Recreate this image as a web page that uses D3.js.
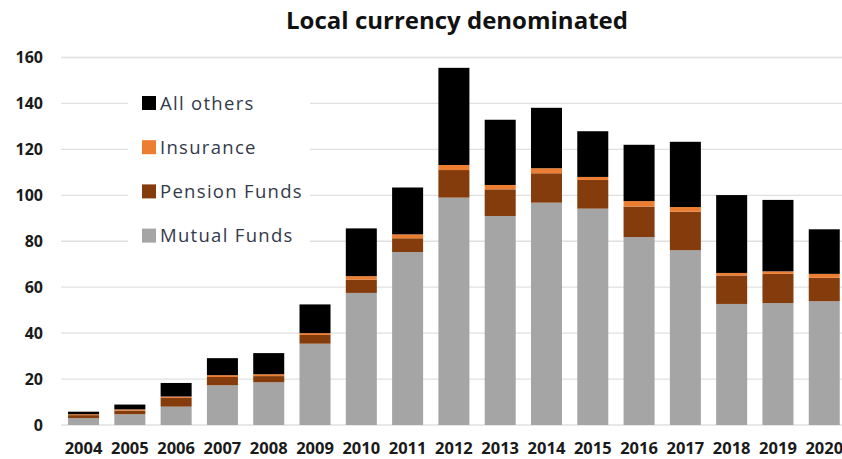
<!DOCTYPE html>
<html>
<head>
<meta charset="utf-8">
<script src="https://cdn.jsdelivr.net/npm/d3@7"></script>
<style>
  body { margin: 0; background: #fff; }
  svg { display: block; }
</style>
</head>
<body>
<script>
const width = 842;
const height = 459;

const years = ["2004", "2005", "2006", "2007", "2008", "2009", "2010", "2011", "2012",
    "2013", "2014", "2015", "2016", "2017", "2018", "2019", "2020"];
const mutualFunds = [3.0, 4.7, 8.0, 17.3, 18.6, 35.4, 57.5, 75.3, 99.0, 91.0, 96.8, 94.2, 81.8, 76.1, 52.7, 53.1, 53.9];
const pensionFunds = [1.3, 1.6, 3.8, 3.6, 2.7, 3.8, 5.8, 6.0, 12.0, 11.6, 12.8, 12.5, 13.3, 16.8, 12.4, 12.7, 10.2];
const insurance = [0.4, 0.5, 0.6, 0.8, 0.8, 0.8, 1.5, 1.7, 2.2, 1.9, 2.2, 1.3, 2.4, 2.0, 1.1, 1.1, 1.7];
const allOthers = [1.1, 2.1, 5.9, 7.4, 9.2, 12.5, 20.8, 20.4, 42.3, 28.4, 26.3, 19.9, 24.5, 28.4, 33.9, 31.1, 19.4];
const yTicks = [0, 20, 40, 60, 80, 100, 120, 140, 160];

const series = [
    { key: "Mutual Funds", values: mutualFunds, color: "#a5a5a5" },
    { key: "Pension Funds", values: pensionFunds, color: "#843c0c" },
    { key: "Insurance", values: insurance, color: "#ed7d31" },
    { key: "All others", values: allOthers, color: "#000000" }
];

const rows = years.map((y, i) => {
    const r = { year: y };
    series.forEach(s => { r[s.key] = s.values[i]; });
    return r;
});

const stack = d3.stack().keys(series.map(s => s.key));
const stacked = stack(rows);

const x = d3.scaleBand()
    .domain(years)
    .range([60.4, 847.4])
    .paddingInner(0.33)
    .paddingOuter(0.165);

const y = d3.scaleLinear()
    .domain([0, 160])
    .range([425, 57.5]);

const svg = d3.select(document.body).append("svg")
    .attr("width", width)
    .attr("height", height);

// gridlines
svg.append("g")
    .attr("stroke", "#e0e0e0")
    .attr("stroke-width", 1.3)
    .selectAll("line")
    .data(yTicks)
    .join("line")
    .attr("x1", 61)
    .attr("x2", 842)
    .attr("y1", d => y(d))
    .attr("y2", d => y(d));

// y tick labels
svg.append("g")
    .attr("font-family", "'Open Sans', sans-serif")
    .attr("font-weight", "bold")
    .attr("font-size", 16)
    .attr("fill", "#1a1a1a")
    .attr("text-anchor", "end")
    .selectAll("text")
    .data(yTicks)
    .join("text")
    .attr("x", 43)
    .attr("y", d => y(d))
    .attr("dy", "0.36em")
    .text(d => d);

// x tick labels
svg.append("g")
    .attr("font-family", "'Open Sans', sans-serif")
    .attr("font-weight", "bold")
    .attr("font-size", 16.5)
    .attr("fill", "#1a1a1a")
    .attr("text-anchor", "middle")
    .selectAll("text")
    .data(years)
    .join("text")
    .attr("x", d => x(d) + x.bandwidth() / 2)
    .attr("y", 454)
    .text(d => d);

// legend background and entries
const legendItems = series.slice().reverse();
const legend = svg.append("g");
legend.append("rect")
    .attr("x", 128)
    .attr("y", 82)
    .attr("width", 182)
    .attr("height", 175)
    .attr("fill", "#fff");

const li = legend.selectAll("g")
    .data(legendItems)
    .join("g")
    .attr("transform", (d, i) => `translate(142, ${103 + i * 44.2})`);

li.append("rect")
    .attr("x", 0)
    .attr("y", -7)
    .attr("width", 14)
    .attr("height", 14)
    .attr("fill", d => d.color);

li.append("text")
    .attr("x", 18)
    .attr("dy", "0.36em")
    .attr("font-family", "'Open Sans', sans-serif")
    .attr("font-size", 18.5)
    .attr("letter-spacing", 1.3)
    .attr("fill", "#333a4a")
    .text(d => d.key);

// bars
svg.append("g")
    .selectAll("g")
    .data(stacked)
    .join("g")
    .attr("fill", (d, i) => series[i].color)
    .selectAll("rect")
    .data(d => d)
    .join("rect")
    .attr("x", d => x(d.data.year))
    .attr("y", d => y(d[1]))
    .attr("width", x.bandwidth())
    .attr("height", d => y(d[0]) - y(d[1]));

// title
svg.append("text")
    .attr("x", 457)
    .attr("y", 29)
    .attr("text-anchor", "middle")
    .attr("font-family", "'Open Sans', sans-serif")
    .attr("font-weight", "bold")
    .attr("font-size", 24)
    .attr("fill", "#111")
    .text("Local currency denominated");
</script>
</body>
</html>
